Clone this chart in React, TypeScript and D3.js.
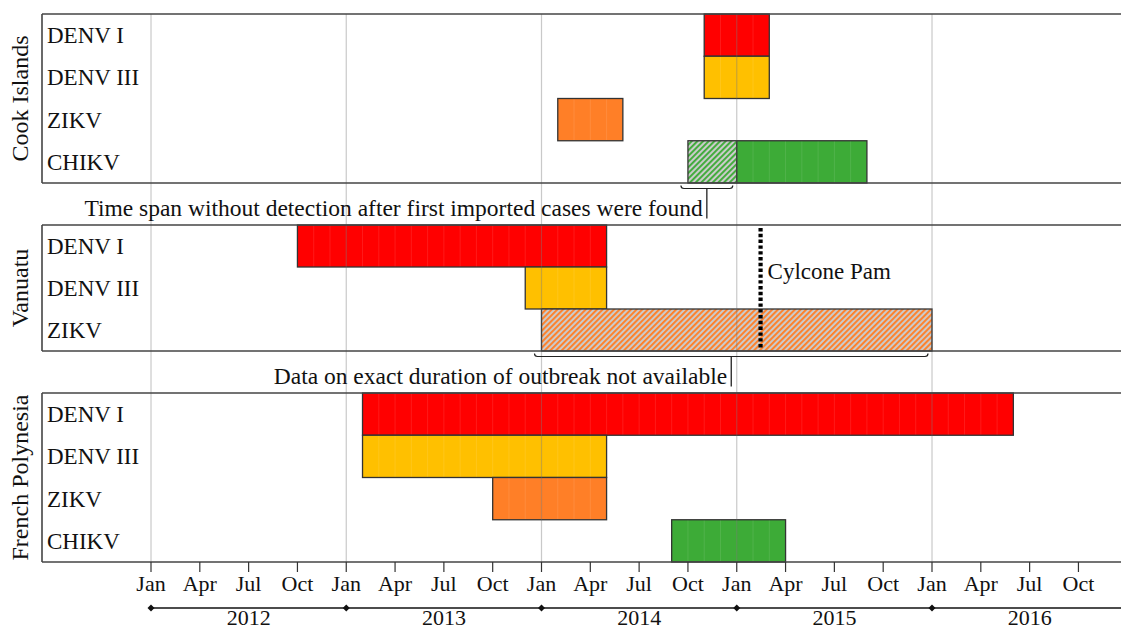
import React from "react";
import * as d3 from "d3";

// ---------- data ----------
const countries = ["Cook Islands", "Vanuatu", "French Polynesia"];
const cookRows = ["DENV I", "DENV III", "ZIKV", "CHIKV"];
const vanuatuRows = ["DENV I", "DENV III", "ZIKV"];
const polynesiaRows = ["DENV I", "DENV III", "ZIKV", "CHIKV"];
const rowsByCountry = [cookRows, vanuatuRows, polynesiaRows];

// [country, virus, first month, last month (inclusive), kind]
const outbreaks: [string, string, string, string, string][] = [
  ["Cook Islands", "DENV I", "2014-11", "2015-02", "solid"],
  ["Cook Islands", "DENV III", "2014-11", "2015-02", "solid"],
  ["Cook Islands", "ZIKV", "2014-02", "2014-05", "solid"],
  ["Cook Islands", "CHIKV", "2014-10", "2014-12", "hatch"],
  ["Cook Islands", "CHIKV", "2015-01", "2015-08", "solid"],
  ["Vanuatu", "DENV I", "2012-10", "2014-04", "solid"],
  ["Vanuatu", "DENV III", "2013-12", "2014-04", "solid"],
  ["Vanuatu", "ZIKV", "2014-01", "2015-12", "hatch"],
  ["French Polynesia", "DENV I", "2013-02", "2016-05", "solid"],
  ["French Polynesia", "DENV III", "2013-02", "2014-04", "solid"],
  ["French Polynesia", "ZIKV", "2013-10", "2014-04", "solid"],
  ["French Polynesia", "CHIKV", "2014-09", "2015-03", "solid"],
];

const virusColors: Record<string, string> = {
  "DENV I": "#ff0000",
  "DENV III": "#ffc000",
  ZIKV: "#ff7f27",
  CHIKV: "#3dab37",
};

const cycloneDate = "2015-02-14";
const cycloneLabel = "Cylcone Pam";

const annotations: [string, string, string][] = [
  ["Cook Islands", "CHIKV", "Time span without detection after first imported cases were found"],
  ["Vanuatu", "ZIKV", "Data on exact duration of outbreak not available"],
];

const years = [2012, 2013, 2014, 2015, 2016];
const quarterLabels = ["Jan", "Apr", "Jul", "Oct"];

// ---------- helpers ----------
const monthIndex = (s: string) => {
  const [y, m, d] = s.split("-").map(Number);
  let v = (y - 2012) * 12 + (m - 1);
  if (d) {
    const days = new Date(Date.UTC(y, m, 0)).getUTCDate();
    v += (d - 1) / days;
  }
  return v;
};

const FONT = "Liberation Serif, Times New Roman, serif";

export default function App() {
  const W = 1121;
  const H = 629;
  const left = 42;
  const x = d3.scaleLinear().domain([0, 48]).range([151, 932]);
  const panelY: [number, number][] = [
    [14, 183],
    [225, 351],
    [393, 562],
  ];
  const bands = rowsByCountry.map((rows, i) =>
    d3.scaleBand<string>().domain(rows).range(panelY[i]).padding(0)
  );
  const cIdx = (c: string) => countries.indexOf(c);

  const ticks = d3.range(0, 60, 3);
  const gridMonths = years.map((y) => (y - 2012) * 12);

  return (
    <svg
      width={W}
      height={H}
      style={{ position: "absolute", left: 0, top: 0, background: "#fff", fontFamily: FONT }}
    >
      <defs>
        <pattern id="hatch-CHIKV" patternUnits="userSpaceOnUse" width={4} height={4} patternTransform="rotate(45)">
          <rect width={4} height={4} fill="#cbcbcb" />
          <rect width={1.9} height={4} fill={virusColors.CHIKV} />
        </pattern>
        <pattern id="hatch-ZIKV" patternUnits="userSpaceOnUse" width={4} height={4} patternTransform="rotate(45)">
          <rect width={4} height={4} fill="#cbcbcb" />
          <rect width={1.9} height={4} fill={virusColors.ZIKV} />
        </pattern>
      </defs>

      {/* bars */}
      {outbreaks.map(([c, v, s, e, kind], i) => {
        const band = bands[cIdx(c)];
        const m0 = monthIndex(s);
        const m1 = monthIndex(e) + 1;
        const x0 = x(m0);
        const x1 = x(m1);
        const y0 = band(v)!;
        const h = band.bandwidth();
        return (
          <g key={i}>
            <rect
              x={x0}
              y={y0}
              width={x1 - x0}
              height={h}
              fill={kind === "hatch" ? `url(#hatch-${v})` : virusColors[v]}
            />
            {kind === "solid" &&
              d3.range(m0 + 1, m1).map((m) => (
                <line
                  key={m}
                  x1={x(m)}
                  x2={x(m)}
                  y1={y0}
                  y2={y0 + h}
                  stroke="#ffffff"
                  strokeOpacity={0.1}
                  strokeWidth={1}
                />
              ))}
            <rect
              x={x0}
              y={y0}
              width={x1 - x0}
              height={h}
              fill="none"
              stroke="#333"
              strokeWidth={1.3}
            />
          </g>
        );
      })}

      {/* yearly grid lines (over bars) */}
      {gridMonths.map((m) => (
        <line
          key={m}
          x1={x(m)}
          x2={x(m)}
          y1={14}
          y2={562}
          stroke="rgb(100,100,100)"
          strokeOpacity={0.35}
          strokeWidth={1.2}
        />
      ))}

      {/* panel frames */}
      {panelY.map(([y0, y1], i) => (
        <g key={i}>
          <line x1={left} x2={W} y1={y0} y2={y0} stroke="#444" strokeWidth={1.6} />
          <line x1={left} x2={W} y1={y1} y2={y1} stroke="#444" strokeWidth={1.6} />
          <line x1={left} x2={left} y1={y0} y2={y1} stroke="#444" strokeWidth={1.6} />
        </g>
      ))}

      {/* row labels */}
      {rowsByCountry.map((rows, i) =>
        rows.map((r) => (
          <text
            key={i + r}
            x={47}
            y={bands[i](r)! + bands[i].bandwidth() / 2 + 8}
            fontSize={23}
            fill="#111"
          >
            {r}
          </text>
        ))
      )}

      {/* country labels */}
      {countries.map((c, i) => (
        <text
          key={c}
          transform={`translate(28,${(panelY[i][0] + panelY[i][1]) / 2}) rotate(-90)`}
          textAnchor="middle"
          fontSize={24}
          fill="#111"
        >
          {c}
        </text>
      ))}

      {/* cyclone */}
      {(() => {
        const cx = x(monthIndex(cycloneDate));
        const [y0, y1] = panelY[1];
        return (
          <g>
            <line
              x1={cx}
              x2={cx}
              y1={y0 + 3}
              y2={y1 - 2}
              stroke="#000"
              strokeWidth={4.2}
              strokeDasharray="3.4,2.4"
            />
            <text x={cx + 7} y={279} fontSize={23} fill="#111">
              {cycloneLabel}
            </text>
          </g>
        );
      })()}

      {/* annotations with brackets */}
      {annotations.map(([c, v, label]) => {
        const o = outbreaks.find((d) => d[0] === c && d[1] === v && d[4] === "hatch")!;
        const ci = cIdx(c);
        const bx0 = x(monthIndex(o[2])) - 7;
        const bx1 = x(monthIndex(o[3]) + 1) - 4;
        const by = panelY[ci][1] + 5.5;
        const mid = (bx0 + bx1) / 2;
        return (
          <g key={label}>
            <path
              d={`M${bx0},${by - 3} Q${bx0},${by} ${bx0 + 3},${by} L${bx1 - 3},${by} Q${bx1},${by} ${bx1},${by - 3}`}
              fill="none"
              stroke="#222"
              strokeWidth={1.2}
            />
            <line x1={mid} x2={mid} y1={by} y2={by + 30} stroke="#222" strokeWidth={1.3} />
            <text x={mid - 4} y={by + 27} textAnchor="end" fontSize={23.5} fill="#111">
              {label}
            </text>
          </g>
        );
      })}

      {/* x axis ticks */}
      {ticks.map((m) => (
        <g key={m}>
          <line x1={x(m)} x2={x(m)} y1={562} y2={572} stroke="#333" strokeWidth={1.2} />
          <text x={x(m)} y={591} textAnchor="middle" fontSize={22} fill="#111">
            {quarterLabels[(m / 3) % 4]}
          </text>
        </g>
      ))}

      {/* year bracket line */}
      <line x1={x(0)} x2={W} y1={608} y2={608} stroke="#111" strokeWidth={1.3} />
      {years.map((y) => {
        const m = (y - 2012) * 12;
        return (
          <g key={y}>
            <path
              d={`M${x(m) - 3.5},608 L${x(m)},604.5 L${x(m) + 3.5},608 L${x(m)},611.5 Z`}
              fill="#111"
            />
            <text x={x(m + 6)} y={625} textAnchor="middle" fontSize={22} fill="#111">
              {y}
            </text>
          </g>
        );
      })}
    </svg>
  );
}
